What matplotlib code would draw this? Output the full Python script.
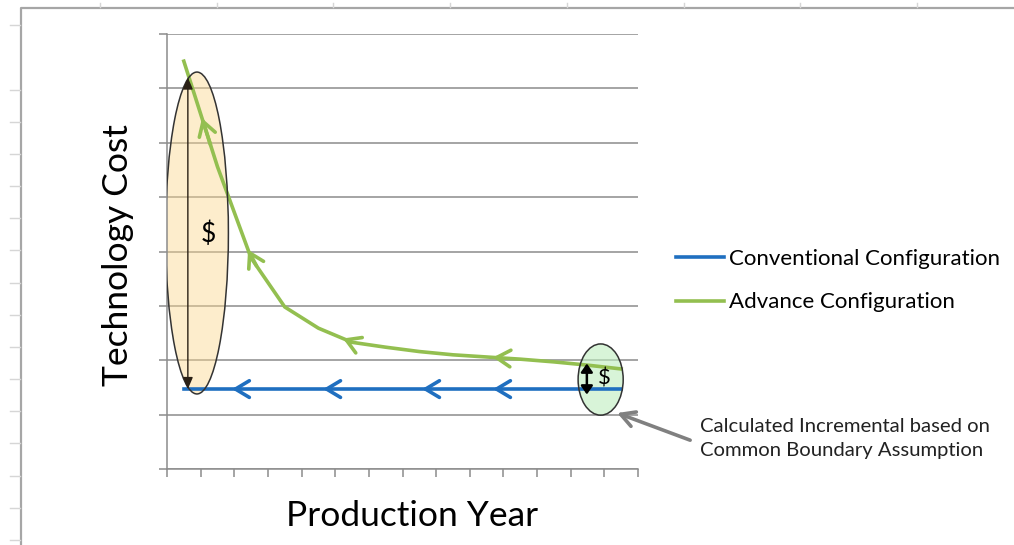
import matplotlib
matplotlib.use("Agg")
import matplotlib.pyplot as plt
from matplotlib.patches import Ellipse
import numpy as np

# ---- data -------------------------------------------------------------
years = np.arange(14) + 0.5          # category centres on the production-year axis
conventional_cost = [1.47] * 14
advance_cost = [7.50, 5.56, 3.88, 2.98, 2.59, 2.33, 2.24, 2.16, 2.10,
                2.06, 2.02, 1.97, 1.91, 1.84]
series_labels = ["Conventional Configuration", "Advance Configuration"]

# direction markers along each series (x positions in year units)
conv_marks = [1.93, 4.64, 7.58, 9.69]
adv_marks = [1.04, 2.41, 5.23, 9.69]

BLUE = "#1f6fc0"
GREEN = "#93bf50"
GRID = "#8c8c8c"
FONT = "Lato"

W, H = 1014, 545
fig = plt.figure(figsize=(W / 100, H / 100), dpi=100)
plt.rcParams["font.family"] = [FONT, "DejaVu Sans"]

# sheet frame behind the chart
bg = fig.add_axes([0, 0, 1, 1], zorder=0)
bg.set_xlim(0, W)
bg.set_ylim(H, 0)
bg.axis("off")
bg.plot([21, 21, W], [H, 8, 8], color="#a6a6a6", lw=1.6, solid_capstyle="butt")
for ty in [25, 90, 122, 154, 186, 218, 250, 283, 315, 347, 379, 411, 443, 476, 508, 540]:
    bg.plot([10, 20], [ty, ty], color="#d6d6d6", lw=1.0)
for tx in [100, 217, 333, 450, 567, 684, 800, 917]:
    bg.plot([tx, tx], [3, 7], color="#d6d6d6", lw=1.0)

# main chart area
ax = fig.add_axes([167 / W, (H - 469) / H, 471 / W, 435 / H], zorder=1)
ax.set_xlim(0, 14)
ax.set_ylim(0, 8)
ax.set_xticks(np.arange(15))
ax.set_yticks(np.arange(9))
ax.set_xticklabels([])
ax.set_yticklabels([])
ax.tick_params(axis="both", direction="out", length=6, width=1.1, color=GRID)
ax.yaxis.grid(True, color=GRID, lw=1.1)
ax.set_axisbelow(True)
for s in ["top", "right"]:
    ax.spines[s].set_visible(False)
for s in ["left", "bottom"]:
    ax.spines[s].set_color(GRID)
    ax.spines[s].set_linewidth(1.1)

# highlighted cost gaps
ax.add_patch(Ellipse((0.89, 4.34), 1.87, 5.92, facecolor="#fbd88f", alpha=0.45,
                     edgecolor="none", zorder=2))
ax.add_patch(Ellipse((0.89, 4.34), 1.87, 5.92, facecolor="none",
                     edgecolor="#333333", lw=1.1, zorder=5))
ax.add_patch(Ellipse((12.89, 1.645), 1.34, 1.31, facecolor="#bfeebf", alpha=0.6,
                     edgecolor="none", zorder=2))
ax.add_patch(Ellipse((12.89, 1.645), 1.34, 1.31, facecolor="none",
                     edgecolor="#333333", lw=1.1, zorder=5))

l1, = ax.plot(years, conventional_cost, color=BLUE, lw=2.6, zorder=3,
              label=series_labels[0])
l2, = ax.plot(years, advance_cost, color=GREEN, lw=2.6, zorder=4,
              label=series_labels[1])

def chevrons(xs, ys, marks, color, z):
    for mx in marks:
        my = np.interp(mx, xs, ys)
        bx = mx + 0.25
        by = np.interp(bx, xs, ys)
        ax.annotate("", xy=(mx, my), xytext=(bx, by),
                    arrowprops=dict(arrowstyle="->,head_length=1.0,head_width=0.6",
                                    color=color, lw=2.6, shrinkA=0, shrinkB=0),
                    zorder=z)

chevrons(years, conventional_cost, conv_marks, BLUE, 3)
chevrons(years, advance_cost, adv_marks, GREEN, 4)

# double-headed gap markers
ax.annotate("", xy=(0.62, advance_cost[0] - 0.3), xytext=(0.62, conventional_cost[0]),
            arrowprops=dict(arrowstyle="<|-|>,head_length=0.7,head_width=0.3",
                            color="#2a2015", lw=1.0, shrinkA=0, shrinkB=0), zorder=6)
ax.annotate("", xy=(12.48, advance_cost[-1] + 0.1), xytext=(12.48, conventional_cost[-1] - 0.1),
            arrowprops=dict(arrowstyle="<|-|>,head_length=0.5,head_width=0.35",
                            color="black", lw=1.8, shrinkA=0, shrinkB=0), zorder=6)
ax.text(1.22, 4.31, "$", fontsize=19, ha="center", va="center", zorder=6)
ax.text(13.0, 1.66, "$", fontsize=16, ha="center", va="center", zorder=6)

# callout
ax.annotate("", xy=(13.38, 1.03), xytext=(15.55, 0.53),
            arrowprops=dict(arrowstyle="->,head_length=1.0,head_width=0.55",
                            color="#808080", lw=2.6, shrinkA=0, shrinkB=0),
            annotation_clip=False, zorder=6)
ax.text(15.84, 0.56, "Calculated Incremental based on\nCommon Boundary Assumption",
        fontsize=14.6, ha="left", va="center", linespacing=1.55, color="#222222",
        clip_on=False)

ax.set_ylabel("Technology Cost", fontsize=25.5, color="black")
ax.yaxis.set_label_coords(-0.07, 0.492)
ax.set_xlabel("Production Year", fontsize=25.5, color="black")
ax.xaxis.set_label_coords(0.52, -0.072)

fig.legend(handles=[l1, l2], loc="upper left",
           bbox_to_anchor=(676 / W, 1 - 249 / H), frameon=False,
           fontsize=16, handlelength=2.16, handletextpad=0.22,
           labelspacing=1.05, borderpad=0, borderaxespad=0)

fig.savefig("out.png", dpi=100, facecolor="white")
